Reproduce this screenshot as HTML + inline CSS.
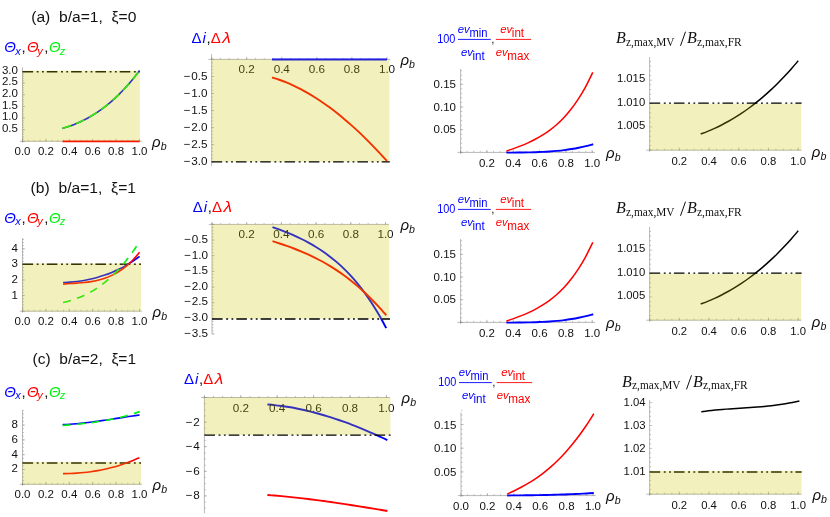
<!DOCTYPE html>
<html><head><meta charset="utf-8"><title>figure</title>
<style>
html,body{margin:0;padding:0;background:#fff;}
body{width:830px;height:517px;overflow:hidden;font-family:"Liberation Sans",sans-serif;}
svg{display:block;will-change:transform;}
</style></head><body>
<svg width="830" height="517" viewBox="0 0 830 517">
<rect width="830" height="517" fill="#ffffff"/>
<g font-family='&quot;Liberation Sans&quot;, sans-serif' font-size='11.6' fill='#111' stroke='#111' stroke-width='0'>
<text x="31.2" y="22.4" textLength="105.2" lengthAdjust="spacingAndGlyphs" font-size="15.5" xml:space="preserve">(a)  b/a=1,  &#958;=0</text>
<text x="30.6" y="193" textLength="105.4" lengthAdjust="spacingAndGlyphs" font-size="15.5" xml:space="preserve">(b)  b/a=1,  &#958;=1</text>
<text x="32.6" y="364.3" textLength="103.4" lengthAdjust="spacingAndGlyphs" font-size="15.5" xml:space="preserve">(c)  b/a=2,  &#958;=1</text>
<text x="4.3" y="52.3" font-style="italic" font-size="15" fill="#0000ff">&#920;</text>
<text x="15.3" y="54.6" font-style="italic" font-size="11" fill="#0000ff">x</text>
<text x="21.6" y="52.3" font-size="15">,</text>
<text x="27.1" y="52.3" font-style="italic" font-size="15" fill="#ff0000">&#920;</text>
<text x="37.2" y="54.6" font-style="italic" font-size="11" fill="#ff0000">y</text>
<text x="44.2" y="52.3" font-size="15">,</text>
<text x="48.9" y="52.3" font-style="italic" font-size="15" fill="#00f20f">&#920;</text>
<text x="59.8" y="54.6" font-style="italic" font-size="11" fill="#00f20f">z</text>
<line x1="19.9" y1="141.3" x2="141.9" y2="141.3" stroke="#8a8a8a" stroke-width="0.6"/>
<path d="M22.5 141.3v-1.5M28.35 141.3v-1.5M34.2 141.3v-1.5M40.05 141.3v-1.5M45.9 141.3v-1.5M51.75 141.3v-1.5M57.6 141.3v-1.5M63.45 141.3v-1.5M69.3 141.3v-1.5M75.15 141.3v-1.5M81 141.3v-1.5M86.85 141.3v-1.5M92.7 141.3v-1.5M98.55 141.3v-1.5M104.4 141.3v-1.5M110.25 141.3v-1.5M116.1 141.3v-1.5M121.95 141.3v-1.5M127.8 141.3v-1.5M133.65 141.3v-1.5M139.5 141.3v-1.5M22.5 141.3v-2.6M45.9 141.3v-2.6M69.3 141.3v-2.6M92.7 141.3v-2.6M116.1 141.3v-2.6M139.5 141.3v-2.6" fill="none" stroke="#8a8a8a" stroke-width="0.5"/>
<text x="22.5" y="154.6" text-anchor="middle" font-size="11.5">0.0</text>
<text x="45.9" y="154.6" text-anchor="middle" font-size="11.5">0.2</text>
<text x="69.3" y="154.6" text-anchor="middle" font-size="11.5">0.4</text>
<text x="92.7" y="154.6" text-anchor="middle" font-size="11.5">0.6</text>
<text x="116.1" y="154.6" text-anchor="middle" font-size="11.5">0.8</text>
<text x="139.5" y="154.6" text-anchor="middle" font-size="11.5">1.0</text>
<line x1="22.5" y1="142.8" x2="22.5" y2="67.4" stroke="#8a8a8a" stroke-width="0.6"/>
<path d="M22.5 141.3h1.5M22.5 138.97h1.5M22.5 136.65h1.5M22.5 134.32h1.5M22.5 131.99h1.5M22.5 129.67h1.5M22.5 127.34h1.5M22.5 125.01h1.5M22.5 122.68h1.5M22.5 120.36h1.5M22.5 118.03h1.5M22.5 115.7h1.5M22.5 113.38h1.5M22.5 111.05h1.5M22.5 108.72h1.5M22.5 106.4h1.5M22.5 104.07h1.5M22.5 101.74h1.5M22.5 99.41h1.5M22.5 97.09h1.5M22.5 94.76h1.5M22.5 92.43h1.5M22.5 90.11h1.5M22.5 87.78h1.5M22.5 85.45h1.5M22.5 83.13h1.5M22.5 80.8h1.5M22.5 78.47h1.5M22.5 76.14h1.5M22.5 73.82h1.5M22.5 71.49h1.5M22.5 141.3h2.6M22.5 129.67h2.6M22.5 118.03h2.6M22.5 106.4h2.6M22.5 94.76h2.6M22.5 83.13h2.6M22.5 71.49h2.6" fill="none" stroke="#8a8a8a" stroke-width="0.5"/>
<text x="17.9" y="131.97" text-anchor="end" font-size="11.5">0.5</text>
<text x="17.9" y="120.33" text-anchor="end" font-size="11.5">1.0</text>
<text x="17.9" y="108.7" text-anchor="end" font-size="11.5">1.5</text>
<text x="17.9" y="97.06" text-anchor="end" font-size="11.5">2.0</text>
<text x="17.9" y="85.43" text-anchor="end" font-size="11.5">2.5</text>
<text x="17.9" y="73.79" text-anchor="end" font-size="11.5">3.0</text>
<line x1="22.5" y1="71.7" x2="140" y2="71.7" stroke="#000000" stroke-width="1.35" stroke-dasharray="10.6 3.6 1.9 3.4 1.8 3.0"/>
<path d="M62.4 128.39C63.57 128.02 67.08 126.97 69.42 126.15C71.76 125.33 74.1 124.43 76.44 123.44C78.78 122.46 81.12 121.39 83.45 120.23C85.79 119.06 88.13 117.81 90.47 116.45C92.81 115.09 95.15 113.64 97.49 112.07C99.83 110.5 102.17 108.83 104.51 107.04C106.85 105.24 109.19 103.34 111.53 101.31C113.87 99.27 116.21 97.12 118.55 94.82C120.88 92.53 123.22 90.12 125.56 87.55C127.9 84.98 130.24 82.29 132.58 79.43C134.92 76.58 138.43 71.93 139.6 70.43" fill="none" stroke="#0000ff" stroke-width="1.6" stroke-linecap="butt"/>
<path d="M62.4 128.39C63.57 128.02 67.08 126.97 69.42 126.15C71.76 125.33 74.1 124.43 76.44 123.44C78.78 122.46 81.12 121.39 83.45 120.23C85.79 119.06 88.13 117.81 90.47 116.45C92.81 115.09 95.15 113.64 97.49 112.07C99.83 110.5 102.17 108.83 104.51 107.04C106.85 105.24 109.19 103.34 111.53 101.31C113.87 99.27 116.21 97.12 118.55 94.82C120.88 92.53 123.22 90.12 125.56 87.55C127.9 84.98 130.24 82.29 132.58 79.43C134.92 76.58 138.43 71.93 139.6 70.43" fill="none" stroke="#00f20f" stroke-width="1.7" stroke-linecap="butt" stroke-dasharray="9 5.5"/>
<line x1="62.6" y1="141.3" x2="139.6" y2="141.3" stroke="#ff0000" stroke-width="1.7"/>
<rect x="22.5" y="70.6" width="117.3" height="70.9" fill="rgb(205,198,0)" fill-opacity="0.26"/>
<text x="152.1" y="146.5" font-style="italic" textLength="8.6" lengthAdjust="spacingAndGlyphs" font-size="14.6">&#961;</text>
<text x="160.8" y="149.7" font-style="italic" font-size="10.6">b</text>
<text x="4.3" y="223.1" font-style="italic" font-size="15" fill="#0000ff">&#920;</text>
<text x="15.3" y="225.4" font-style="italic" font-size="11" fill="#0000ff">x</text>
<text x="21.6" y="223.1" font-size="15">,</text>
<text x="27.1" y="223.1" font-style="italic" font-size="15" fill="#ff0000">&#920;</text>
<text x="37.2" y="225.4" font-style="italic" font-size="11" fill="#ff0000">y</text>
<text x="44.2" y="223.1" font-size="15">,</text>
<text x="48.9" y="223.1" font-style="italic" font-size="15" fill="#00f20f">&#920;</text>
<text x="59.8" y="225.4" font-style="italic" font-size="11" fill="#00f20f">z</text>
<line x1="19.9" y1="311.2" x2="141.9" y2="311.2" stroke="#8a8a8a" stroke-width="0.6"/>
<path d="M22.5 311.2v-1.5M28.35 311.2v-1.5M34.2 311.2v-1.5M40.05 311.2v-1.5M45.9 311.2v-1.5M51.75 311.2v-1.5M57.6 311.2v-1.5M63.45 311.2v-1.5M69.3 311.2v-1.5M75.15 311.2v-1.5M81 311.2v-1.5M86.85 311.2v-1.5M92.7 311.2v-1.5M98.55 311.2v-1.5M104.4 311.2v-1.5M110.25 311.2v-1.5M116.1 311.2v-1.5M121.95 311.2v-1.5M127.8 311.2v-1.5M133.65 311.2v-1.5M139.5 311.2v-1.5M22.5 311.2v-2.6M45.9 311.2v-2.6M69.3 311.2v-2.6M92.7 311.2v-2.6M116.1 311.2v-2.6M139.5 311.2v-2.6" fill="none" stroke="#8a8a8a" stroke-width="0.5"/>
<text x="22.5" y="324.5" text-anchor="middle" font-size="11.5">0.0</text>
<text x="45.9" y="324.5" text-anchor="middle" font-size="11.5">0.2</text>
<text x="69.3" y="324.5" text-anchor="middle" font-size="11.5">0.4</text>
<text x="92.7" y="324.5" text-anchor="middle" font-size="11.5">0.6</text>
<text x="116.1" y="324.5" text-anchor="middle" font-size="11.5">0.8</text>
<text x="139.5" y="324.5" text-anchor="middle" font-size="11.5">1.0</text>
<line x1="22.5" y1="312.7" x2="22.5" y2="238.2" stroke="#8a8a8a" stroke-width="0.6"/>
<path d="M22.5 311.2h1.5M22.5 308.08h1.5M22.5 304.96h1.5M22.5 301.84h1.5M22.5 298.72h1.5M22.5 295.6h1.5M22.5 292.48h1.5M22.5 289.36h1.5M22.5 286.24h1.5M22.5 283.12h1.5M22.5 280h1.5M22.5 276.88h1.5M22.5 273.76h1.5M22.5 270.64h1.5M22.5 267.52h1.5M22.5 264.4h1.5M22.5 261.28h1.5M22.5 258.16h1.5M22.5 255.04h1.5M22.5 251.92h1.5M22.5 248.8h1.5M22.5 245.68h1.5M22.5 242.56h1.5M22.5 239.44h1.5M22.5 311.2h2.6M22.5 295.6h2.6M22.5 280h2.6M22.5 264.4h2.6M22.5 248.8h2.6" fill="none" stroke="#8a8a8a" stroke-width="0.5"/>
<text x="17.9" y="298.5" text-anchor="end" font-size="11.5">1</text>
<text x="17.9" y="282.9" text-anchor="end" font-size="11.5">2</text>
<text x="17.9" y="267.3" text-anchor="end" font-size="11.5">3</text>
<text x="17.9" y="251.7" text-anchor="end" font-size="11.5">4</text>
<line x1="22.5" y1="264.2" x2="141.2" y2="264.2" stroke="#000000" stroke-width="1.55" stroke-dasharray="10.6 3.6 1.9 3.4 1.8 3.0"/>
<path d="M63.1 282.56C64.26 282.49 67.74 282.33 70.05 282.14C72.37 281.95 74.69 281.73 77.01 281.44C79.33 281.15 81.65 280.82 83.96 280.42C86.28 280.03 88.6 279.58 90.92 279.05C93.24 278.53 95.55 277.95 97.87 277.29C100.19 276.63 102.51 275.91 104.83 275.1C107.15 274.29 109.46 273.41 111.78 272.44C114.1 271.47 116.42 270.42 118.74 269.27C121.05 268.13 123.37 266.9 125.69 265.57C128.01 264.23 130.33 262.81 132.65 261.28C134.96 259.75 138.44 257.19 139.6 256.38" fill="none" stroke="#0000ff" stroke-width="1.6" stroke-linecap="butt"/>
<path d="M63.1 284.09C64.26 284 67.74 283.73 70.05 283.56C72.37 283.39 74.69 283.27 77.01 283.09C79.33 282.91 81.65 282.74 83.96 282.49C86.28 282.24 88.6 281.98 90.92 281.6C93.24 281.22 95.55 280.8 97.87 280.24C100.19 279.67 102.51 279.03 104.83 278.23C107.15 277.42 109.46 276.5 111.78 275.39C114.1 274.28 116.42 273.03 118.74 271.56C121.05 270.09 123.37 268.45 125.69 266.56C128.01 264.66 130.33 262.57 132.65 260.2C134.96 257.83 138.44 253.63 139.6 252.32" fill="none" stroke="#ff0000" stroke-width="1.6" stroke-linecap="butt"/>
<path d="M63.1 302.43C64.26 302.14 67.74 301.34 70.05 300.66C72.37 299.97 74.69 299.22 77.01 298.35C79.33 297.48 81.65 296.52 83.96 295.44C86.28 294.36 88.6 293.18 90.92 291.86C93.24 290.54 95.55 289.11 97.87 287.52C100.19 285.94 102.51 284.23 104.83 282.36C107.15 280.49 109.46 278.48 111.78 276.29C114.1 274.1 116.42 271.77 118.74 269.24C121.05 266.72 123.37 264.03 125.69 261.14C128.01 258.26 130.33 255.19 132.65 251.91C134.96 248.64 138.44 243.22 139.6 241.48" fill="none" stroke="#00f20f" stroke-width="1.6" stroke-linecap="butt" stroke-dasharray="8 6.5"/>
<rect x="22.5" y="263.4" width="118.5" height="48" fill="rgb(205,198,0)" fill-opacity="0.26"/>
<text x="152.6" y="316.5" font-style="italic" textLength="8.6" lengthAdjust="spacingAndGlyphs" font-size="14.6">&#961;</text>
<text x="161.3" y="319.7" font-style="italic" font-size="10.6">b</text>
<text x="4.3" y="396.5" font-style="italic" font-size="15" fill="#0000ff">&#920;</text>
<text x="15.3" y="398.8" font-style="italic" font-size="11" fill="#0000ff">x</text>
<text x="21.6" y="396.5" font-size="15">,</text>
<text x="27.1" y="396.5" font-style="italic" font-size="15" fill="#ff0000">&#920;</text>
<text x="37.2" y="398.8" font-style="italic" font-size="11" fill="#ff0000">y</text>
<text x="44.2" y="396.5" font-size="15">,</text>
<text x="48.9" y="396.5" font-style="italic" font-size="15" fill="#00f20f">&#920;</text>
<text x="59.8" y="398.8" font-style="italic" font-size="11" fill="#00f20f">z</text>
<line x1="19.9" y1="484.3" x2="141.9" y2="484.3" stroke="#8a8a8a" stroke-width="0.6"/>
<path d="M22.5 484.3v-1.5M28.35 484.3v-1.5M34.2 484.3v-1.5M40.05 484.3v-1.5M45.9 484.3v-1.5M51.75 484.3v-1.5M57.6 484.3v-1.5M63.45 484.3v-1.5M69.3 484.3v-1.5M75.15 484.3v-1.5M81 484.3v-1.5M86.85 484.3v-1.5M92.7 484.3v-1.5M98.55 484.3v-1.5M104.4 484.3v-1.5M110.25 484.3v-1.5M116.1 484.3v-1.5M121.95 484.3v-1.5M127.8 484.3v-1.5M133.65 484.3v-1.5M139.5 484.3v-1.5M22.5 484.3v-2.6M45.9 484.3v-2.6M69.3 484.3v-2.6M92.7 484.3v-2.6M116.1 484.3v-2.6M139.5 484.3v-2.6" fill="none" stroke="#8a8a8a" stroke-width="0.5"/>
<text x="22.5" y="497.6" text-anchor="middle" font-size="11.5">0.0</text>
<text x="45.9" y="497.6" text-anchor="middle" font-size="11.5">0.2</text>
<text x="69.3" y="497.6" text-anchor="middle" font-size="11.5">0.4</text>
<text x="92.7" y="497.6" text-anchor="middle" font-size="11.5">0.6</text>
<text x="116.1" y="497.6" text-anchor="middle" font-size="11.5">0.8</text>
<text x="139.5" y="497.6" text-anchor="middle" font-size="11.5">1.0</text>
<line x1="22.5" y1="485.8" x2="22.5" y2="410.2" stroke="#8a8a8a" stroke-width="0.6"/>
<path d="M22.5 484.3h1.5M22.5 480.6h1.5M22.5 476.9h1.5M22.5 473.2h1.5M22.5 469.5h1.5M22.5 465.8h1.5M22.5 462.1h1.5M22.5 458.4h1.5M22.5 454.7h1.5M22.5 451h1.5M22.5 447.3h1.5M22.5 443.6h1.5M22.5 439.9h1.5M22.5 436.2h1.5M22.5 432.5h1.5M22.5 428.8h1.5M22.5 425.1h1.5M22.5 421.4h1.5M22.5 417.7h1.5M22.5 414h1.5M22.5 410.3h1.5M22.5 484.3h2.6M22.5 469.5h2.6M22.5 454.7h2.6M22.5 439.9h2.6M22.5 425.1h2.6" fill="none" stroke="#8a8a8a" stroke-width="0.5"/>
<text x="17.9" y="472.4" text-anchor="end" font-size="11.5">2</text>
<text x="17.9" y="457.6" text-anchor="end" font-size="11.5">4</text>
<text x="17.9" y="442.8" text-anchor="end" font-size="11.5">6</text>
<text x="17.9" y="428" text-anchor="end" font-size="11.5">8</text>
<line x1="22.5" y1="463" x2="141.2" y2="463" stroke="#000000" stroke-width="1.55" stroke-dasharray="10.6 3.6 1.9 3.4 1.8 3.0"/>
<path d="M62.6 424.7C63.77 424.64 67.27 424.47 69.6 424.31C71.93 424.15 74.27 423.96 76.6 423.75C78.93 423.53 81.27 423.29 83.6 423.03C85.93 422.77 88.27 422.49 90.6 422.19C92.93 421.89 95.27 421.58 97.6 421.25C99.93 420.93 102.27 420.59 104.6 420.24C106.93 419.9 109.27 419.54 111.6 419.19C113.93 418.83 116.27 418.47 118.6 418.11C120.93 417.75 123.27 417.39 125.6 417.04C127.93 416.69 130.27 416.33 132.6 416C134.93 415.66 138.43 415.18 139.6 415.02" fill="none" stroke="#0000ff" stroke-width="1.6" stroke-linecap="butt"/>
<path d="M62.6 425.54C63.77 425.44 67.28 425.15 69.62 424.94C71.96 424.73 74.3 424.52 76.64 424.29C78.98 424.06 81.32 423.82 83.65 423.56C85.99 423.3 88.33 423.02 90.67 422.72C93.01 422.42 95.35 422.1 97.69 421.75C100.03 421.39 102.37 421.02 104.71 420.61C107.05 420.2 109.39 419.76 111.73 419.28C114.07 418.8 116.41 418.29 118.75 417.73C121.08 417.18 123.42 416.58 125.76 415.94C128.1 415.29 130.44 414.61 132.78 413.87C135.12 413.13 138.63 411.89 139.8 411.49" fill="none" stroke="#00f20f" stroke-width="1.6" stroke-linecap="butt" stroke-dasharray="8 6.5"/>
<path d="M63 473.65C64.16 473.62 67.63 473.55 69.95 473.46C72.26 473.37 74.58 473.24 76.89 473.08C79.21 472.92 81.52 472.73 83.84 472.49C86.15 472.26 88.47 471.98 90.78 471.67C93.1 471.35 95.41 471 97.73 470.59C100.04 470.19 102.36 469.74 104.67 469.24C106.99 468.75 109.3 468.2 111.62 467.6C113.93 467 116.25 466.35 118.56 465.64C120.88 464.94 123.19 464.18 125.51 463.35C127.82 462.53 130.14 461.65 132.45 460.7C134.77 459.76 138.24 458.18 139.4 457.68" fill="none" stroke="#ff0000" stroke-width="1.6" stroke-linecap="butt"/>
<rect x="22.5" y="461.9" width="118.5" height="22.6" fill="rgb(205,198,0)" fill-opacity="0.26"/>
<text x="152.6" y="489.6" font-style="italic" textLength="8.6" lengthAdjust="spacingAndGlyphs" font-size="14.6">&#961;</text>
<text x="161.3" y="492.8" font-style="italic" font-size="10.6">b</text>
<text x="191.4" y="42.8" font-size="15" fill="#0000ff">&#916;</text>
<text x="202.4" y="42.8" font-style="italic" font-size="15" fill="#0000ff">i</text>
<text x="206.4" y="42.8" font-size="15">,</text>
<text x="210.7" y="42.8" font-size="15" fill="#ff0000">&#916;</text>
<text x="222.2" y="42.8" font-style="italic" textLength="8.6" lengthAdjust="spacingAndGlyphs" font-size="15" fill="#ff0000">&#955;</text>
<line x1="208.4" y1="59.4" x2="390.4" y2="59.4" stroke="#8a8a8a" stroke-width="0.6"/>
<path d="M211.6 59.4v-1.5M220.37 59.4v-1.5M229.14 59.4v-1.5M237.91 59.4v-1.5M246.68 59.4v-1.5M255.45 59.4v-1.5M264.22 59.4v-1.5M272.99 59.4v-1.5M281.76 59.4v-1.5M290.53 59.4v-1.5M299.3 59.4v-1.5M308.07 59.4v-1.5M316.84 59.4v-1.5M325.61 59.4v-1.5M334.38 59.4v-1.5M343.15 59.4v-1.5M351.92 59.4v-1.5M360.69 59.4v-1.5M369.46 59.4v-1.5M378.23 59.4v-1.5M387 59.4v-1.5M211.6 59.4v-2.6M246.68 59.4v-2.6M281.76 59.4v-2.6M316.84 59.4v-2.6M351.92 59.4v-2.6M387 59.4v-2.6" fill="none" stroke="#8a8a8a" stroke-width="0.5"/>
<text x="246.68" y="73.3" text-anchor="middle" font-size="11.7">0.2</text>
<text x="281.76" y="73.3" text-anchor="middle" font-size="11.7">0.4</text>
<text x="316.84" y="73.3" text-anchor="middle" font-size="11.7">0.6</text>
<text x="351.92" y="73.3" text-anchor="middle" font-size="11.7">0.8</text>
<text x="387" y="73.3" text-anchor="middle" font-size="11.7">1.0</text>
<line x1="211.6" y1="54" x2="211.6" y2="166" stroke="#8a8a8a" stroke-width="0.6"/>
<path d="M211.6 59.4h1.5M211.6 62.81h1.5M211.6 66.23h1.5M211.6 69.64h1.5M211.6 73.05h1.5M211.6 76.47h1.5M211.6 79.88h1.5M211.6 83.29h1.5M211.6 86.7h1.5M211.6 90.12h1.5M211.6 93.53h1.5M211.6 96.94h1.5M211.6 100.36h1.5M211.6 103.77h1.5M211.6 107.18h1.5M211.6 110.59h1.5M211.6 114.01h1.5M211.6 117.42h1.5M211.6 120.83h1.5M211.6 124.25h1.5M211.6 127.66h1.5M211.6 131.07h1.5M211.6 134.49h1.5M211.6 137.9h1.5M211.6 141.31h1.5M211.6 144.72h1.5M211.6 148.14h1.5M211.6 151.55h1.5M211.6 154.96h1.5M211.6 158.38h1.5M211.6 161.79h1.5M211.6 59.4h2.6M211.6 76.47h2.6M211.6 93.53h2.6M211.6 110.59h2.6M211.6 127.66h2.6M211.6 144.72h2.6M211.6 161.79h2.6" fill="none" stroke="#8a8a8a" stroke-width="0.5"/>
<text x="207.6" y="79.56" text-anchor="end" font-size="11.7">&#8722;<tspan dx="0.7">0.5</tspan></text>
<text x="207.6" y="96.63" text-anchor="end" font-size="11.7">&#8722;<tspan dx="0.7">1.0</tspan></text>
<text x="207.6" y="113.69" text-anchor="end" font-size="11.7">&#8722;<tspan dx="0.7">1.5</tspan></text>
<text x="207.6" y="130.76" text-anchor="end" font-size="11.7">&#8722;<tspan dx="0.7">2.0</tspan></text>
<text x="207.6" y="147.82" text-anchor="end" font-size="11.7">&#8722;<tspan dx="0.7">2.5</tspan></text>
<text x="207.6" y="164.89" text-anchor="end" font-size="11.7">&#8722;<tspan dx="0.7">3.0</tspan></text>
<path d="M272 77.46C273.2 77.84 276.79 78.92 279.18 79.75C281.57 80.58 283.97 81.49 286.36 82.46C288.76 83.44 291.15 84.49 293.54 85.6C295.94 86.71 298.33 87.9 300.73 89.15C303.12 90.4 305.51 91.72 307.91 93.1C310.3 94.48 312.69 95.93 315.09 97.45C317.48 98.96 319.88 100.54 322.27 102.18C324.66 103.83 327.06 105.53 329.45 107.3C331.84 109.07 334.24 110.9 336.63 112.79C339.03 114.69 341.42 116.64 343.81 118.65C346.21 120.66 348.6 122.74 350.99 124.87C353.39 127 355.78 129.19 358.17 131.43C360.57 133.68 362.96 135.98 365.36 138.34C367.75 140.7 370.14 143.11 372.54 145.58C374.93 148.05 377.32 150.58 379.72 153.15C382.11 155.73 385.7 159.73 386.9 161.04" fill="none" stroke="#ff0000" stroke-width="1.9" stroke-linecap="butt"/>
<line x1="272" y1="59.4" x2="387" y2="59.4" stroke="#0000ff" stroke-width="2"/>
<rect x="211.6" y="59.4" width="177.8" height="102.4" fill="rgb(205,198,0)" fill-opacity="0.26"/>
<line x1="211.6" y1="161.9" x2="389.8" y2="161.9" stroke="#000000" stroke-width="1.4" stroke-dasharray="10.6 3.6 1.9 3.4 1.8 3.0"/>
<text x="400.4" y="64.9" font-style="italic" textLength="8.6" lengthAdjust="spacingAndGlyphs" font-size="14.6">&#961;</text>
<text x="409.1" y="68.1" font-style="italic" font-size="10.6">b</text>
<text x="192.8" y="211.6" font-size="15" fill="#0000ff">&#916;</text>
<text x="203.8" y="211.6" font-style="italic" font-size="15" fill="#0000ff">i</text>
<text x="207.8" y="211.6" font-size="15">,</text>
<text x="212.1" y="211.6" font-size="15" fill="#ff0000">&#916;</text>
<text x="223.6" y="211.6" font-style="italic" textLength="8.6" lengthAdjust="spacingAndGlyphs" font-size="15" fill="#ff0000">&#955;</text>
<path d="M272.5 227.18C273.68 227.61 277.24 228.84 279.61 229.72C281.97 230.6 284.34 231.51 286.71 232.47C289.08 233.43 291.45 234.42 293.82 235.47C296.19 236.52 298.56 237.61 300.93 238.77C303.29 239.93 305.66 241.14 308.03 242.42C310.4 243.71 312.77 245.05 315.14 246.49C317.51 247.93 319.88 249.43 322.24 251.04C324.61 252.65 326.98 254.34 329.35 256.15C331.72 257.95 334.09 259.85 336.46 261.89C338.82 263.92 341.19 266.06 343.56 268.35C345.93 270.64 348.3 273.05 350.67 275.63C353.04 278.22 355.41 280.93 357.77 283.84C360.14 286.74 362.51 289.8 364.88 293.07C367.25 296.34 369.62 299.78 371.99 303.45C374.36 307.12 376.73 310.97 379.09 315.09C381.46 319.2 385.02 325.95 386.2 328.12" fill="none" stroke="#0000ff" stroke-width="1.9" stroke-linecap="butt"/>
<path d="M272.5 241.2C273.68 241.58 277.24 242.7 279.61 243.48C281.97 244.26 284.34 245.06 286.71 245.9C289.08 246.73 291.45 247.59 293.82 248.5C296.19 249.4 298.56 250.33 300.93 251.32C303.29 252.3 305.66 253.33 308.03 254.4C310.4 255.48 312.77 256.61 315.14 257.79C317.51 258.98 319.88 260.22 322.24 261.52C324.61 262.83 326.98 264.19 329.35 265.62C331.72 267.06 334.09 268.55 336.46 270.13C338.82 271.7 341.19 273.35 343.56 275.07C345.93 276.8 348.3 278.59 350.67 280.48C353.04 282.36 355.41 284.32 357.77 286.37C360.14 288.42 362.51 290.55 364.88 292.78C367.25 295 369.62 297.31 371.99 299.72C374.36 302.13 376.73 304.62 379.09 307.21C381.46 309.81 385.02 313.94 386.2 315.28" fill="none" stroke="#ff0000" stroke-width="1.9" stroke-linecap="butt"/>
<line x1="208.8" y1="224.4" x2="388.9" y2="224.4" stroke="#8a8a8a" stroke-width="0.6"/>
<path d="M212 224.4v-1.5M220.68 224.4v-1.5M229.35 224.4v-1.5M238.03 224.4v-1.5M246.7 224.4v-1.5M255.38 224.4v-1.5M264.05 224.4v-1.5M272.73 224.4v-1.5M281.4 224.4v-1.5M290.07 224.4v-1.5M298.75 224.4v-1.5M307.43 224.4v-1.5M316.1 224.4v-1.5M324.77 224.4v-1.5M333.45 224.4v-1.5M342.12 224.4v-1.5M350.8 224.4v-1.5M359.48 224.4v-1.5M368.15 224.4v-1.5M376.83 224.4v-1.5M385.5 224.4v-1.5M212 224.4v-2.6M246.7 224.4v-2.6M281.4 224.4v-2.6M316.1 224.4v-2.6M350.8 224.4v-2.6M385.5 224.4v-2.6" fill="none" stroke="#8a8a8a" stroke-width="0.5"/>
<text x="246.7" y="238.3" text-anchor="middle" font-size="11.7">0.2</text>
<text x="281.4" y="238.3" text-anchor="middle" font-size="11.7">0.4</text>
<text x="316.1" y="238.3" text-anchor="middle" font-size="11.7">0.6</text>
<text x="350.8" y="238.3" text-anchor="middle" font-size="11.7">0.8</text>
<text x="385.5" y="238.3" text-anchor="middle" font-size="11.7">1.0</text>
<line x1="212" y1="223.4" x2="212" y2="333.8" stroke="#8a8a8a" stroke-width="0.6"/>
<path d="M212 224.4h1.5M212 227.53h1.5M212 230.66h1.5M212 233.79h1.5M212 236.92h1.5M212 240.05h1.5M212 243.18h1.5M212 246.31h1.5M212 249.44h1.5M212 252.57h1.5M212 255.7h1.5M212 258.83h1.5M212 261.96h1.5M212 265.09h1.5M212 268.22h1.5M212 271.35h1.5M212 274.48h1.5M212 277.61h1.5M212 280.74h1.5M212 283.87h1.5M212 287h1.5M212 290.13h1.5M212 293.26h1.5M212 296.39h1.5M212 299.52h1.5M212 302.65h1.5M212 305.78h1.5M212 308.91h1.5M212 312.04h1.5M212 315.17h1.5M212 318.3h1.5M212 321.43h1.5M212 324.56h1.5M212 327.69h1.5M212 330.82h1.5M212 333.95h1.5M212 224.4h2.6M212 240.05h2.6M212 255.7h2.6M212 271.35h2.6M212 287h2.6M212 302.65h2.6M212 318.3h2.6M212 333.95h2.6" fill="none" stroke="#8a8a8a" stroke-width="0.5"/>
<text x="208" y="242.85" text-anchor="end" font-size="11.7">&#8722;<tspan dx="0.7">0.5</tspan></text>
<text x="208" y="258.5" text-anchor="end" font-size="11.7">&#8722;<tspan dx="0.7">1.0</tspan></text>
<text x="208" y="274.15" text-anchor="end" font-size="11.7">&#8722;<tspan dx="0.7">1.5</tspan></text>
<text x="208" y="289.8" text-anchor="end" font-size="11.7">&#8722;<tspan dx="0.7">2.0</tspan></text>
<text x="208" y="305.45" text-anchor="end" font-size="11.7">&#8722;<tspan dx="0.7">2.5</tspan></text>
<text x="208" y="321.1" text-anchor="end" font-size="11.7">&#8722;<tspan dx="0.7">3.0</tspan></text>
<text x="208" y="336.75" text-anchor="end" font-size="11.7">&#8722;<tspan dx="0.7">3.5</tspan></text>
<rect x="212" y="224.4" width="177.2" height="94.5" fill="rgb(205,198,0)" fill-opacity="0.26"/>
<line x1="212" y1="319" x2="390" y2="319" stroke="#000000" stroke-width="1.4" stroke-dasharray="10.6 3.6 1.9 3.4 1.8 3.0"/>
<text x="400.4" y="230.2" font-style="italic" textLength="8.6" lengthAdjust="spacingAndGlyphs" font-size="14.6">&#961;</text>
<text x="409.1" y="233.4" font-style="italic" font-size="10.6">b</text>
<text x="183.9" y="384.4" font-size="15" fill="#0000ff">&#916;</text>
<text x="194.9" y="384.4" font-style="italic" font-size="15" fill="#0000ff">i</text>
<text x="198.9" y="384.4" font-size="15">,</text>
<text x="203.2" y="384.4" font-size="15" fill="#ff0000">&#916;</text>
<text x="214.7" y="384.4" font-style="italic" textLength="8.6" lengthAdjust="spacingAndGlyphs" font-size="15" fill="#ff0000">&#955;</text>
<path d="M267.4 404.46C268.58 404.56 272.11 404.85 274.46 405.09C276.81 405.34 279.16 405.63 281.52 405.95C283.87 406.27 286.22 406.62 288.58 407.01C290.93 407.4 293.28 407.82 295.64 408.28C297.99 408.73 300.34 409.22 302.69 409.73C305.05 410.25 307.4 410.8 309.75 411.38C312.11 411.96 314.46 412.57 316.81 413.21C319.16 413.85 321.52 414.52 323.87 415.22C326.22 415.92 328.58 416.64 330.93 417.39C333.28 418.15 335.64 418.93 337.99 419.73C340.34 420.54 342.69 421.37 345.05 422.22C347.4 423.08 349.75 423.96 352.11 424.87C354.46 425.77 356.81 426.7 359.16 427.65C361.52 428.6 363.87 429.57 366.22 430.57C368.58 431.56 370.93 432.58 373.28 433.62C375.64 434.65 377.99 435.71 380.34 436.79C382.69 437.86 386.22 439.53 387.4 440.07" fill="none" stroke="#0000ff" stroke-width="1.9" stroke-linecap="butt"/>
<path d="M267.4 494.99C268.58 495.08 272.11 495.34 274.46 495.53C276.81 495.73 279.16 495.93 281.52 496.15C283.87 496.37 286.22 496.59 288.58 496.83C290.93 497.07 293.28 497.31 295.64 497.57C297.99 497.83 300.34 498.09 302.69 498.37C305.05 498.64 307.4 498.92 309.75 499.22C312.11 499.51 314.46 499.81 316.81 500.11C319.16 500.42 321.52 500.74 323.87 501.06C326.22 501.38 328.58 501.71 330.93 502.04C333.28 502.38 335.64 502.72 337.99 503.07C340.34 503.41 342.69 503.77 345.05 504.13C347.4 504.48 349.75 504.85 352.11 505.21C354.46 505.58 356.81 505.95 359.16 506.33C361.52 506.7 363.87 507.08 366.22 507.47C368.58 507.85 370.93 508.24 373.28 508.62C375.64 509.01 377.99 509.4 380.34 509.8C382.69 510.19 386.22 510.79 387.4 510.98" fill="none" stroke="#ff0000" stroke-width="1.9" stroke-linecap="butt"/>
<line x1="201.2" y1="397.5" x2="390" y2="397.5" stroke="#8a8a8a" stroke-width="0.6"/>
<path d="M204.4 397.5v-1.5M213.5 397.5v-1.5M222.6 397.5v-1.5M231.7 397.5v-1.5M240.8 397.5v-1.5M249.9 397.5v-1.5M259 397.5v-1.5M268.1 397.5v-1.5M277.2 397.5v-1.5M286.3 397.5v-1.5M295.4 397.5v-1.5M304.5 397.5v-1.5M313.6 397.5v-1.5M322.7 397.5v-1.5M331.8 397.5v-1.5M340.9 397.5v-1.5M350 397.5v-1.5M359.1 397.5v-1.5M368.2 397.5v-1.5M377.3 397.5v-1.5M386.4 397.5v-1.5M204.4 397.5v-2.6M240.8 397.5v-2.6M277.2 397.5v-2.6M313.6 397.5v-2.6M350 397.5v-2.6M386.4 397.5v-2.6" fill="none" stroke="#8a8a8a" stroke-width="0.5"/>
<text x="240.8" y="411.8" text-anchor="middle" font-size="11.7">0.2</text>
<text x="277.2" y="411.8" text-anchor="middle" font-size="11.7">0.4</text>
<text x="313.6" y="411.8" text-anchor="middle" font-size="11.7">0.6</text>
<text x="350" y="411.8" text-anchor="middle" font-size="11.7">0.8</text>
<text x="386.4" y="411.8" text-anchor="middle" font-size="11.7">1.0</text>
<line x1="204.4" y1="396.5" x2="204.4" y2="513.2" stroke="#8a8a8a" stroke-width="0.6"/>
<path d="M204.4 397.5h1.5M204.4 403.65h1.5M204.4 409.8h1.5M204.4 415.95h1.5M204.4 422.1h1.5M204.4 428.25h1.5M204.4 434.4h1.5M204.4 440.55h1.5M204.4 446.7h1.5M204.4 452.85h1.5M204.4 459h1.5M204.4 465.15h1.5M204.4 471.3h1.5M204.4 477.45h1.5M204.4 483.6h1.5M204.4 489.75h1.5M204.4 495.9h1.5M204.4 502.05h1.5M204.4 508.2h1.5M204.4 397.5h2.6M204.4 422.1h2.6M204.4 446.7h2.6M204.4 471.3h2.6M204.4 495.9h2.6" fill="none" stroke="#8a8a8a" stroke-width="0.5"/>
<text x="199.8" y="425.5" text-anchor="end" font-size="11.7">&#8722;<tspan dx="0.7">2</tspan></text>
<text x="199.8" y="450.1" text-anchor="end" font-size="11.7">&#8722;<tspan dx="0.7">4</tspan></text>
<text x="199.8" y="474.7" text-anchor="end" font-size="11.7">&#8722;<tspan dx="0.7">6</tspan></text>
<text x="199.8" y="499.3" text-anchor="end" font-size="11.7">&#8722;<tspan dx="0.7">8</tspan></text>
<rect x="204.4" y="397.5" width="186" height="37.5" fill="rgb(205,198,0)" fill-opacity="0.26"/>
<line x1="204.4" y1="435.1" x2="390.6" y2="435.1" stroke="#000000" stroke-width="1.4" stroke-dasharray="10.6 3.6 1.9 3.4 1.8 3.0"/>
<text x="401.6" y="403" font-style="italic" textLength="8.6" lengthAdjust="spacingAndGlyphs" font-size="14.6">&#961;</text>
<text x="410.3" y="406.2" font-style="italic" font-size="10.6">b</text>
<text x="437.2" y="43" textLength="18.2" lengthAdjust="spacingAndGlyphs" font-size="12" fill="#0000ff">100</text>
<line x1="458" y1="39.4" x2="490.8" y2="39.4" stroke="#0000ff" stroke-width="0.9"/>
<text x="457.8" y="32.9" font-style="italic" textLength="12" lengthAdjust="spacingAndGlyphs" font-size="10.8" fill="#0000ff">ev</text>
<text x="469.4" y="37" textLength="18" lengthAdjust="spacingAndGlyphs" font-size="12" fill="#0000ff">min</text>
<text x="460.9" y="55.7" font-style="italic" textLength="12" lengthAdjust="spacingAndGlyphs" font-size="10.8" fill="#0000ff">ev</text>
<text x="472.4" y="59.6" textLength="12.3" lengthAdjust="spacingAndGlyphs" font-size="12" fill="#0000ff">int</text>
<text x="491.3" y="42.6" font-size="11.5">,</text>
<line x1="495.8" y1="39.4" x2="531.1" y2="39.4" stroke="#ff0000" stroke-width="0.9"/>
<text x="500.3" y="32.9" font-style="italic" textLength="12" lengthAdjust="spacingAndGlyphs" font-size="10.8" fill="#ff0000">ev</text>
<text x="511.8" y="37" textLength="12.3" lengthAdjust="spacingAndGlyphs" font-size="12" fill="#ff0000">int</text>
<text x="495.7" y="55.7" font-style="italic" textLength="12" lengthAdjust="spacingAndGlyphs" font-size="10.8" fill="#ff0000">ev</text>
<text x="507.3" y="59.6" textLength="22" lengthAdjust="spacingAndGlyphs" font-size="12" fill="#ff0000">max</text>
<line x1="457.4" y1="152.4" x2="595" y2="152.4" stroke="#8a8a8a" stroke-width="0.6"/>
<path d="M460.6 152.4v-1.5M467.18 152.4v-1.5M473.76 152.4v-1.5M480.34 152.4v-1.5M486.92 152.4v-1.5M493.5 152.4v-1.5M500.08 152.4v-1.5M506.66 152.4v-1.5M513.24 152.4v-1.5M519.82 152.4v-1.5M526.4 152.4v-1.5M532.98 152.4v-1.5M539.56 152.4v-1.5M546.14 152.4v-1.5M552.72 152.4v-1.5M559.3 152.4v-1.5M565.88 152.4v-1.5M572.46 152.4v-1.5M579.04 152.4v-1.5M585.62 152.4v-1.5M592.2 152.4v-1.5M460.6 152.4v-2.6M486.92 152.4v-2.6M513.24 152.4v-2.6M539.56 152.4v-2.6M565.88 152.4v-2.6M592.2 152.4v-2.6" fill="none" stroke="#8a8a8a" stroke-width="0.5"/>
<text x="486.92" y="166.8" text-anchor="middle" font-size="11.5">0.2</text>
<text x="513.24" y="166.8" text-anchor="middle" font-size="11.5">0.4</text>
<text x="539.56" y="166.8" text-anchor="middle" font-size="11.5">0.6</text>
<text x="565.88" y="166.8" text-anchor="middle" font-size="11.5">0.8</text>
<text x="592.2" y="166.8" text-anchor="middle" font-size="11.5">1.0</text>
<line x1="460.6" y1="154" x2="460.6" y2="69" stroke="#8a8a8a" stroke-width="0.6"/>
<path d="M460.6 152.4h1.5M460.6 147.86h1.5M460.6 143.32h1.5M460.6 138.78h1.5M460.6 134.24h1.5M460.6 129.7h1.5M460.6 125.16h1.5M460.6 120.62h1.5M460.6 116.08h1.5M460.6 111.54h1.5M460.6 107h1.5M460.6 102.46h1.5M460.6 97.92h1.5M460.6 93.38h1.5M460.6 88.84h1.5M460.6 84.3h1.5M460.6 79.76h1.5M460.6 75.22h1.5M460.6 70.68h1.5M460.6 152.4h2.6M460.6 129.7h2.6M460.6 107h2.6M460.6 84.3h2.6" fill="none" stroke="#8a8a8a" stroke-width="0.5"/>
<text x="456" y="133.3" text-anchor="end" font-size="11.5">0.05</text>
<text x="456" y="110.6" text-anchor="end" font-size="11.5">0.10</text>
<text x="456" y="87.9" text-anchor="end" font-size="11.5">0.15</text>
<path d="M506.4 152.64C507.61 152.63 511.22 152.6 513.63 152.58C516.04 152.56 518.46 152.54 520.87 152.51C523.28 152.48 525.69 152.45 528.1 152.4C530.51 152.34 532.92 152.29 535.33 152.21C537.74 152.13 540.16 152.03 542.57 151.91C544.98 151.79 547.39 151.65 549.8 151.48C552.21 151.31 554.62 151.11 557.03 150.88C559.44 150.64 561.86 150.38 564.27 150.08C566.68 149.77 569.09 149.43 571.5 149.04C573.91 148.65 576.32 148.23 578.73 147.75C581.14 147.26 583.56 146.74 585.97 146.15C588.38 145.57 591.99 144.56 593.2 144.24" fill="none" stroke="#0000ff" stroke-width="1.9" stroke-linecap="butt"/>
<path d="M506.4 151.09C507.6 150.68 511.2 149.49 513.6 148.62C516 147.76 518.4 146.86 520.8 145.9C523.2 144.93 525.6 143.93 528 142.83C530.4 141.73 532.8 140.58 535.2 139.31C537.6 138.03 540 136.69 542.4 135.19C544.8 133.69 547.2 132.1 549.6 130.32C552 128.53 554.4 126.63 556.8 124.49C559.2 122.35 561.6 120.06 564 117.49C566.4 114.92 568.8 112.15 571.2 109.06C573.6 105.97 576 102.65 578.4 98.95C580.8 95.24 583.2 91.25 585.6 86.83C588 82.4 591.6 74.79 592.8 72.38" fill="none" stroke="#ff0000" stroke-width="1.55" stroke-linecap="butt"/>
<text x="606" y="157.9" font-style="italic" textLength="8.6" lengthAdjust="spacingAndGlyphs" font-size="14.6">&#961;</text>
<text x="614.7" y="161.1" font-style="italic" font-size="10.6">b</text>
<text x="437.2" y="213" textLength="18.2" lengthAdjust="spacingAndGlyphs" font-size="12" fill="#0000ff">100</text>
<line x1="458" y1="209.4" x2="490.8" y2="209.4" stroke="#0000ff" stroke-width="0.9"/>
<text x="457.8" y="202.9" font-style="italic" textLength="12" lengthAdjust="spacingAndGlyphs" font-size="10.8" fill="#0000ff">ev</text>
<text x="469.4" y="207" textLength="18" lengthAdjust="spacingAndGlyphs" font-size="12" fill="#0000ff">min</text>
<text x="460.9" y="225.7" font-style="italic" textLength="12" lengthAdjust="spacingAndGlyphs" font-size="10.8" fill="#0000ff">ev</text>
<text x="472.4" y="229.6" textLength="12.3" lengthAdjust="spacingAndGlyphs" font-size="12" fill="#0000ff">int</text>
<text x="491.3" y="212.6" font-size="11.5">,</text>
<line x1="495.8" y1="209.4" x2="531.1" y2="209.4" stroke="#ff0000" stroke-width="0.9"/>
<text x="500.3" y="202.9" font-style="italic" textLength="12" lengthAdjust="spacingAndGlyphs" font-size="10.8" fill="#ff0000">ev</text>
<text x="511.8" y="207" textLength="12.3" lengthAdjust="spacingAndGlyphs" font-size="12" fill="#ff0000">int</text>
<text x="495.7" y="225.7" font-style="italic" textLength="12" lengthAdjust="spacingAndGlyphs" font-size="10.8" fill="#ff0000">ev</text>
<text x="507.3" y="229.6" textLength="22" lengthAdjust="spacingAndGlyphs" font-size="12" fill="#ff0000">max</text>
<line x1="457.4" y1="322.4" x2="595" y2="322.4" stroke="#8a8a8a" stroke-width="0.6"/>
<path d="M460.6 322.4v-1.5M467.18 322.4v-1.5M473.76 322.4v-1.5M480.34 322.4v-1.5M486.92 322.4v-1.5M493.5 322.4v-1.5M500.08 322.4v-1.5M506.66 322.4v-1.5M513.24 322.4v-1.5M519.82 322.4v-1.5M526.4 322.4v-1.5M532.98 322.4v-1.5M539.56 322.4v-1.5M546.14 322.4v-1.5M552.72 322.4v-1.5M559.3 322.4v-1.5M565.88 322.4v-1.5M572.46 322.4v-1.5M579.04 322.4v-1.5M585.62 322.4v-1.5M592.2 322.4v-1.5M460.6 322.4v-2.6M486.92 322.4v-2.6M513.24 322.4v-2.6M539.56 322.4v-2.6M565.88 322.4v-2.6M592.2 322.4v-2.6" fill="none" stroke="#8a8a8a" stroke-width="0.5"/>
<text x="486.92" y="336.8" text-anchor="middle" font-size="11.5">0.2</text>
<text x="513.24" y="336.8" text-anchor="middle" font-size="11.5">0.4</text>
<text x="539.56" y="336.8" text-anchor="middle" font-size="11.5">0.6</text>
<text x="565.88" y="336.8" text-anchor="middle" font-size="11.5">0.8</text>
<text x="592.2" y="336.8" text-anchor="middle" font-size="11.5">1.0</text>
<line x1="460.6" y1="324" x2="460.6" y2="239" stroke="#8a8a8a" stroke-width="0.6"/>
<path d="M460.6 322.4h1.5M460.6 317.86h1.5M460.6 313.32h1.5M460.6 308.78h1.5M460.6 304.24h1.5M460.6 299.7h1.5M460.6 295.16h1.5M460.6 290.62h1.5M460.6 286.08h1.5M460.6 281.54h1.5M460.6 277h1.5M460.6 272.46h1.5M460.6 267.92h1.5M460.6 263.38h1.5M460.6 258.84h1.5M460.6 254.3h1.5M460.6 249.76h1.5M460.6 245.22h1.5M460.6 240.68h1.5M460.6 322.4h2.6M460.6 299.7h2.6M460.6 277h2.6M460.6 254.3h2.6" fill="none" stroke="#8a8a8a" stroke-width="0.5"/>
<text x="456" y="303.3" text-anchor="end" font-size="11.5">0.05</text>
<text x="456" y="280.6" text-anchor="end" font-size="11.5">0.10</text>
<text x="456" y="257.9" text-anchor="end" font-size="11.5">0.15</text>
<path d="M506.4 322.64C507.61 322.63 511.22 322.6 513.63 322.58C516.04 322.56 518.46 322.54 520.87 322.51C523.28 322.48 525.69 322.45 528.1 322.4C530.51 322.34 532.92 322.29 535.33 322.21C537.74 322.13 540.16 322.03 542.57 321.91C544.98 321.79 547.39 321.65 549.8 321.48C552.21 321.31 554.62 321.11 557.03 320.88C559.44 320.64 561.86 320.38 564.27 320.08C566.68 319.77 569.09 319.43 571.5 319.04C573.91 318.65 576.32 318.23 578.73 317.75C581.14 317.26 583.56 316.74 585.97 316.15C588.38 315.57 591.99 314.56 593.2 314.24" fill="none" stroke="#0000ff" stroke-width="1.9" stroke-linecap="butt"/>
<path d="M506.4 321.09C507.6 320.68 511.2 319.49 513.6 318.62C516 317.76 518.4 316.86 520.8 315.9C523.2 314.93 525.6 313.93 528 312.83C530.4 311.73 532.8 310.58 535.2 309.31C537.6 308.03 540 306.69 542.4 305.19C544.8 303.69 547.2 302.1 549.6 300.32C552 298.53 554.4 296.63 556.8 294.49C559.2 292.35 561.6 290.06 564 287.49C566.4 284.92 568.8 282.15 571.2 279.06C573.6 275.97 576 272.65 578.4 268.95C580.8 265.24 583.2 261.25 585.6 256.83C588 252.4 591.6 244.79 592.8 242.38" fill="none" stroke="#ff0000" stroke-width="1.55" stroke-linecap="butt"/>
<text x="606" y="327.9" font-style="italic" textLength="8.6" lengthAdjust="spacingAndGlyphs" font-size="14.6">&#961;</text>
<text x="614.7" y="331.1" font-style="italic" font-size="10.6">b</text>
<text x="438.2" y="386.2" textLength="18.2" lengthAdjust="spacingAndGlyphs" font-size="12" fill="#0000ff">100</text>
<line x1="459" y1="382.6" x2="491.8" y2="382.6" stroke="#0000ff" stroke-width="0.9"/>
<text x="458.8" y="376.1" font-style="italic" textLength="12" lengthAdjust="spacingAndGlyphs" font-size="10.8" fill="#0000ff">ev</text>
<text x="470.4" y="380.2" textLength="18" lengthAdjust="spacingAndGlyphs" font-size="12" fill="#0000ff">min</text>
<text x="461.9" y="398.9" font-style="italic" textLength="12" lengthAdjust="spacingAndGlyphs" font-size="10.8" fill="#0000ff">ev</text>
<text x="473.4" y="402.8" textLength="12.3" lengthAdjust="spacingAndGlyphs" font-size="12" fill="#0000ff">int</text>
<text x="492.3" y="385.8" font-size="11.5">,</text>
<line x1="496.8" y1="382.6" x2="532.1" y2="382.6" stroke="#ff0000" stroke-width="0.9"/>
<text x="501.3" y="376.1" font-style="italic" textLength="12" lengthAdjust="spacingAndGlyphs" font-size="10.8" fill="#ff0000">ev</text>
<text x="512.8" y="380.2" textLength="12.3" lengthAdjust="spacingAndGlyphs" font-size="12" fill="#ff0000">int</text>
<text x="496.7" y="398.9" font-style="italic" textLength="12" lengthAdjust="spacingAndGlyphs" font-size="10.8" fill="#ff0000">ev</text>
<text x="508.3" y="402.8" textLength="22" lengthAdjust="spacingAndGlyphs" font-size="12" fill="#ff0000">max</text>
<line x1="457.8" y1="495.6" x2="595.8" y2="495.6" stroke="#8a8a8a" stroke-width="0.6"/>
<path d="M461 495.6v-1.5M467.6 495.6v-1.5M474.2 495.6v-1.5M480.8 495.6v-1.5M487.4 495.6v-1.5M494 495.6v-1.5M500.6 495.6v-1.5M507.2 495.6v-1.5M513.8 495.6v-1.5M520.4 495.6v-1.5M527 495.6v-1.5M533.6 495.6v-1.5M540.2 495.6v-1.5M546.8 495.6v-1.5M553.4 495.6v-1.5M560 495.6v-1.5M566.6 495.6v-1.5M573.2 495.6v-1.5M579.8 495.6v-1.5M586.4 495.6v-1.5M593 495.6v-1.5M461 495.6v-2.6M487.4 495.6v-2.6M513.8 495.6v-2.6M540.2 495.6v-2.6M566.6 495.6v-2.6M593 495.6v-2.6" fill="none" stroke="#8a8a8a" stroke-width="0.5"/>
<text x="461" y="510" text-anchor="middle" font-size="11.5">0.0</text>
<text x="487.4" y="510" text-anchor="middle" font-size="11.5">0.2</text>
<text x="513.8" y="510" text-anchor="middle" font-size="11.5">0.4</text>
<text x="540.2" y="510" text-anchor="middle" font-size="11.5">0.6</text>
<text x="566.6" y="510" text-anchor="middle" font-size="11.5">0.8</text>
<text x="593" y="510" text-anchor="middle" font-size="11.5">1.0</text>
<line x1="461" y1="497.2" x2="461" y2="412.4" stroke="#8a8a8a" stroke-width="0.6"/>
<path d="M461 495.6h1.5M461 490.86h1.5M461 486.12h1.5M461 481.38h1.5M461 476.64h1.5M461 471.9h1.5M461 467.16h1.5M461 462.42h1.5M461 457.68h1.5M461 452.94h1.5M461 448.2h1.5M461 443.46h1.5M461 438.72h1.5M461 433.98h1.5M461 429.24h1.5M461 424.5h1.5M461 419.76h1.5M461 415.02h1.5M461 410.28h1.5M461 495.6h2.6M461 471.9h2.6M461 448.2h2.6M461 424.5h2.6" fill="none" stroke="#8a8a8a" stroke-width="0.5"/>
<text x="456.4" y="476" text-anchor="end" font-size="11.5">0.05</text>
<text x="456.4" y="452.3" text-anchor="end" font-size="11.5">0.10</text>
<text x="456.4" y="428.6" text-anchor="end" font-size="11.5">0.15</text>
<path d="M507.2 495.43C508.4 495.42 512.01 495.4 514.42 495.39C516.82 495.37 519.23 495.35 521.63 495.33C524.04 495.31 526.44 495.28 528.85 495.25C531.26 495.22 533.66 495.19 536.07 495.15C538.47 495.12 540.88 495.07 543.28 495.03C545.69 494.98 548.09 494.93 550.5 494.87C552.91 494.81 555.31 494.74 557.72 494.67C560.12 494.6 562.53 494.52 564.93 494.44C567.34 494.35 569.74 494.26 572.15 494.16C574.56 494.06 576.96 493.95 579.37 493.83C581.77 493.72 584.18 493.59 586.58 493.46C588.99 493.32 592.6 493.1 593.8 493.03" fill="none" stroke="#0000ff" stroke-width="1.9" stroke-linecap="butt"/>
<path d="M507.2 494C508.4 493.45 512.01 491.86 514.42 490.7C516.82 489.54 519.23 488.33 521.63 487.04C524.04 485.74 526.44 484.38 528.85 482.93C531.26 481.47 533.66 479.93 536.07 478.28C538.47 476.63 540.88 474.9 543.28 473.03C545.69 471.17 548.09 469.2 550.5 467.1C552.91 465 555.31 462.79 557.72 460.43C560.12 458.06 562.53 455.58 564.93 452.94C567.34 450.29 569.74 447.52 572.15 444.57C574.56 441.63 576.96 438.54 579.37 435.28C581.77 432.02 584.18 428.6 586.58 425.01C588.99 421.41 592.6 415.59 593.8 413.7" fill="none" stroke="#ff0000" stroke-width="1.55" stroke-linecap="butt"/>
<text x="606" y="501.1" font-style="italic" textLength="8.6" lengthAdjust="spacingAndGlyphs" font-size="14.6">&#961;</text>
<text x="614.7" y="504.3" font-style="italic" font-size="10.6">b</text>
<text x="616" y="43.4" font-style="italic" font-family='&quot;Liberation Serif&quot;, serif' font-size="16">B</text>
<text x="626.1" y="45.8" textLength="48.4" lengthAdjust="spacingAndGlyphs" font-family='&quot;Liberation Serif&quot;, serif' font-size="12">z,max,MV</text>
<line x1="680.5" y1="45.8" x2="685.5" y2="31.7" stroke="#111" stroke-width="1"/>
<text x="687" y="43.4" font-style="italic" font-family='&quot;Liberation Serif&quot;, serif' font-size="16">B</text>
<text x="697" y="45.8" textLength="44.8" lengthAdjust="spacingAndGlyphs" font-family='&quot;Liberation Serif&quot;, serif' font-size="12">z,max,FR</text>
<line x1="646.4" y1="150.2" x2="801.4" y2="150.2" stroke="#8a8a8a" stroke-width="0.6"/>
<path d="M649.6 150.2v-1.5M657.03 150.2v-1.5M664.46 150.2v-1.5M671.89 150.2v-1.5M679.32 150.2v-1.5M686.75 150.2v-1.5M694.18 150.2v-1.5M701.61 150.2v-1.5M709.04 150.2v-1.5M716.47 150.2v-1.5M723.9 150.2v-1.5M731.33 150.2v-1.5M738.76 150.2v-1.5M746.19 150.2v-1.5M753.62 150.2v-1.5M761.05 150.2v-1.5M768.48 150.2v-1.5M775.91 150.2v-1.5M783.34 150.2v-1.5M790.77 150.2v-1.5M798.2 150.2v-1.5M649.6 150.2v-2.6M679.32 150.2v-2.6M709.04 150.2v-2.6M738.76 150.2v-2.6M768.48 150.2v-2.6M798.2 150.2v-2.6" fill="none" stroke="#8a8a8a" stroke-width="0.5"/>
<text x="679.32" y="164.6" text-anchor="middle" font-size="11.3">0.2</text>
<text x="709.04" y="164.6" text-anchor="middle" font-size="11.3">0.4</text>
<text x="738.76" y="164.6" text-anchor="middle" font-size="11.3">0.6</text>
<text x="768.48" y="164.6" text-anchor="middle" font-size="11.3">0.8</text>
<text x="798.2" y="164.6" text-anchor="middle" font-size="11.3">1.0</text>
<line x1="649.6" y1="151.8" x2="649.6" y2="57" stroke="#8a8a8a" stroke-width="0.6"/>
<path d="M649.6 150.2h2.6M649.6 145.53h1.5M649.6 140.86h1.5M649.6 136.19h1.5M649.6 131.52h1.5M649.6 126.85h2.6M649.6 122.18h1.5M649.6 117.51h1.5M649.6 112.84h1.5M649.6 108.17h1.5M649.6 103.5h2.6M649.6 98.83h1.5M649.6 94.16h1.5M649.6 89.49h1.5M649.6 84.82h1.5M649.6 80.15h2.6M649.6 75.48h1.5M649.6 70.81h1.5M649.6 66.14h1.5M649.6 61.47h1.5" fill="none" stroke="#8a8a8a" stroke-width="0.5"/>
<text x="645.2" y="129.05" text-anchor="end" font-size="11.3">1.005</text>
<text x="645.2" y="105.7" text-anchor="end" font-size="11.3">1.010</text>
<text x="645.2" y="82.35" text-anchor="end" font-size="11.3">1.015</text>
<path d="M700.7 133.98C701.86 133.54 705.34 132.28 707.66 131.34C709.99 130.4 712.31 129.41 714.63 128.35C716.95 127.29 719.27 126.18 721.59 125C723.91 123.82 726.24 122.58 728.56 121.27C730.88 119.97 733.2 118.6 735.52 117.16C737.84 115.73 740.16 114.22 742.49 112.65C744.81 111.08 747.13 109.45 749.45 107.74C751.77 106.03 754.09 104.25 756.41 102.4C758.74 100.54 761.06 98.62 763.38 96.62C765.7 94.62 768.02 92.55 770.34 90.4C772.66 88.25 774.99 86.03 777.31 83.72C779.63 81.42 781.95 79.04 784.27 76.58C786.59 74.11 788.91 71.57 791.24 68.95C793.56 66.32 797.04 62.18 798.2 60.82" fill="none" stroke="#000000" stroke-width="1.5" stroke-linecap="butt"/>
<rect x="649.6" y="103.6" width="151.7" height="46.8" fill="rgb(205,198,0)" fill-opacity="0.26"/>
<line x1="649.6" y1="103.2" x2="801.6" y2="103.2" stroke="#000000" stroke-width="1.3" stroke-dasharray="10.6 3.6 1.9 3.4 1.8 3.0"/>
<text x="811.8" y="156.5" font-style="italic" textLength="8.6" lengthAdjust="spacingAndGlyphs" font-size="14.6">&#961;</text>
<text x="820.5" y="159.7" font-style="italic" font-size="10.6">b</text>
<text x="616" y="213.4" font-style="italic" font-family='&quot;Liberation Serif&quot;, serif' font-size="16">B</text>
<text x="626.1" y="215.8" textLength="48.4" lengthAdjust="spacingAndGlyphs" font-family='&quot;Liberation Serif&quot;, serif' font-size="12">z,max,MV</text>
<line x1="680.5" y1="215.8" x2="685.5" y2="201.7" stroke="#111" stroke-width="1"/>
<text x="687" y="213.4" font-style="italic" font-family='&quot;Liberation Serif&quot;, serif' font-size="16">B</text>
<text x="697" y="215.8" textLength="44.8" lengthAdjust="spacingAndGlyphs" font-family='&quot;Liberation Serif&quot;, serif' font-size="12">z,max,FR</text>
<line x1="646.4" y1="320.2" x2="801.4" y2="320.2" stroke="#8a8a8a" stroke-width="0.6"/>
<path d="M649.6 320.2v-1.5M657.03 320.2v-1.5M664.46 320.2v-1.5M671.89 320.2v-1.5M679.32 320.2v-1.5M686.75 320.2v-1.5M694.18 320.2v-1.5M701.61 320.2v-1.5M709.04 320.2v-1.5M716.47 320.2v-1.5M723.9 320.2v-1.5M731.33 320.2v-1.5M738.76 320.2v-1.5M746.19 320.2v-1.5M753.62 320.2v-1.5M761.05 320.2v-1.5M768.48 320.2v-1.5M775.91 320.2v-1.5M783.34 320.2v-1.5M790.77 320.2v-1.5M798.2 320.2v-1.5M649.6 320.2v-2.6M679.32 320.2v-2.6M709.04 320.2v-2.6M738.76 320.2v-2.6M768.48 320.2v-2.6M798.2 320.2v-2.6" fill="none" stroke="#8a8a8a" stroke-width="0.5"/>
<text x="679.32" y="334.6" text-anchor="middle" font-size="11.3">0.2</text>
<text x="709.04" y="334.6" text-anchor="middle" font-size="11.3">0.4</text>
<text x="738.76" y="334.6" text-anchor="middle" font-size="11.3">0.6</text>
<text x="768.48" y="334.6" text-anchor="middle" font-size="11.3">0.8</text>
<text x="798.2" y="334.6" text-anchor="middle" font-size="11.3">1.0</text>
<line x1="649.6" y1="321.8" x2="649.6" y2="227" stroke="#8a8a8a" stroke-width="0.6"/>
<path d="M649.6 320.2h2.6M649.6 315.53h1.5M649.6 310.86h1.5M649.6 306.19h1.5M649.6 301.52h1.5M649.6 296.85h2.6M649.6 292.18h1.5M649.6 287.51h1.5M649.6 282.84h1.5M649.6 278.17h1.5M649.6 273.5h2.6M649.6 268.83h1.5M649.6 264.16h1.5M649.6 259.49h1.5M649.6 254.82h1.5M649.6 250.15h2.6M649.6 245.48h1.5M649.6 240.81h1.5M649.6 236.14h1.5M649.6 231.47h1.5" fill="none" stroke="#8a8a8a" stroke-width="0.5"/>
<text x="645.2" y="299.05" text-anchor="end" font-size="11.3">1.005</text>
<text x="645.2" y="275.7" text-anchor="end" font-size="11.3">1.010</text>
<text x="645.2" y="252.35" text-anchor="end" font-size="11.3">1.015</text>
<path d="M700.7 303.98C701.86 303.54 705.34 302.28 707.66 301.34C709.99 300.4 712.31 299.41 714.63 298.35C716.95 297.29 719.27 296.18 721.59 295C723.91 293.82 726.24 292.58 728.56 291.27C730.88 289.97 733.2 288.6 735.52 287.16C737.84 285.73 740.16 284.22 742.49 282.65C744.81 281.08 747.13 279.45 749.45 277.74C751.77 276.03 754.09 274.25 756.41 272.4C758.74 270.54 761.06 268.62 763.38 266.62C765.7 264.62 768.02 262.55 770.34 260.4C772.66 258.25 774.99 256.03 777.31 253.72C779.63 251.42 781.95 249.04 784.27 246.58C786.59 244.11 788.91 241.57 791.24 238.95C793.56 236.32 797.04 232.18 798.2 230.82" fill="none" stroke="#000000" stroke-width="1.5" stroke-linecap="butt"/>
<rect x="649.6" y="273.6" width="151.7" height="46.8" fill="rgb(205,198,0)" fill-opacity="0.26"/>
<line x1="649.6" y1="273.2" x2="801.6" y2="273.2" stroke="#000000" stroke-width="1.3" stroke-dasharray="10.6 3.6 1.9 3.4 1.8 3.0"/>
<text x="811.8" y="326.5" font-style="italic" textLength="8.6" lengthAdjust="spacingAndGlyphs" font-size="14.6">&#961;</text>
<text x="820.5" y="329.7" font-style="italic" font-size="10.6">b</text>
<text x="622" y="387" font-style="italic" font-family='&quot;Liberation Serif&quot;, serif' font-size="16">B</text>
<text x="632.1" y="389.4" textLength="48.4" lengthAdjust="spacingAndGlyphs" font-family='&quot;Liberation Serif&quot;, serif' font-size="12">z,max,MV</text>
<line x1="686.5" y1="389.4" x2="691.5" y2="375.3" stroke="#111" stroke-width="1"/>
<text x="693" y="387" font-style="italic" font-family='&quot;Liberation Serif&quot;, serif' font-size="16">B</text>
<text x="703" y="389.4" textLength="44.8" lengthAdjust="spacingAndGlyphs" font-family='&quot;Liberation Serif&quot;, serif' font-size="12">z,max,FR</text>
<line x1="646.4" y1="494.2" x2="801.4" y2="494.2" stroke="#8a8a8a" stroke-width="0.6"/>
<path d="M649.6 494.2v-1.5M657.03 494.2v-1.5M664.46 494.2v-1.5M671.89 494.2v-1.5M679.32 494.2v-1.5M686.75 494.2v-1.5M694.18 494.2v-1.5M701.61 494.2v-1.5M709.04 494.2v-1.5M716.47 494.2v-1.5M723.9 494.2v-1.5M731.33 494.2v-1.5M738.76 494.2v-1.5M746.19 494.2v-1.5M753.62 494.2v-1.5M761.05 494.2v-1.5M768.48 494.2v-1.5M775.91 494.2v-1.5M783.34 494.2v-1.5M790.77 494.2v-1.5M798.2 494.2v-1.5M649.6 494.2v-2.6M679.32 494.2v-2.6M709.04 494.2v-2.6M738.76 494.2v-2.6M768.48 494.2v-2.6M798.2 494.2v-2.6" fill="none" stroke="#8a8a8a" stroke-width="0.5"/>
<text x="679.32" y="508.6" text-anchor="middle" font-size="11.3">0.2</text>
<text x="709.04" y="508.6" text-anchor="middle" font-size="11.3">0.4</text>
<text x="738.76" y="508.6" text-anchor="middle" font-size="11.3">0.6</text>
<text x="768.48" y="508.6" text-anchor="middle" font-size="11.3">0.8</text>
<text x="798.2" y="508.6" text-anchor="middle" font-size="11.3">1.0</text>
<line x1="649.6" y1="495.8" x2="649.6" y2="400" stroke="#8a8a8a" stroke-width="0.6"/>
<path d="M649.6 494.2h2.6M649.6 489.62h1.5M649.6 485.04h1.5M649.6 480.46h1.5M649.6 475.88h1.5M649.6 471.3h2.6M649.6 466.72h1.5M649.6 462.14h1.5M649.6 457.56h1.5M649.6 452.98h1.5M649.6 448.4h2.6M649.6 443.82h1.5M649.6 439.24h1.5M649.6 434.66h1.5M649.6 430.08h1.5M649.6 425.5h2.6M649.6 420.92h1.5M649.6 416.34h1.5M649.6 411.76h1.5M649.6 407.18h1.5M649.6 402.6h2.6" fill="none" stroke="#8a8a8a" stroke-width="0.5"/>
<text x="645.6" y="474.5" text-anchor="end" font-size="11.3">1.01</text>
<text x="645.6" y="451.6" text-anchor="end" font-size="11.3">1.02</text>
<text x="645.6" y="428.7" text-anchor="end" font-size="11.3">1.03</text>
<text x="645.6" y="405.8" text-anchor="end" font-size="11.3">1.04</text>
<line x1="649.6" y1="472" x2="801.6" y2="472" stroke="#000000" stroke-width="1.6" stroke-dasharray="10.6 3.6 1.9 3.4 1.8 3.0"/>
<path d="M701.3 411.75C702.47 411.6 705.97 411.11 708.31 410.82C710.64 410.54 712.98 410.29 715.31 410.06C717.65 409.83 719.99 409.62 722.32 409.43C724.66 409.24 726.99 409.06 729.33 408.9C731.66 408.73 734 408.58 736.34 408.42C738.67 408.27 741.01 408.12 743.34 407.97C745.68 407.82 748.01 407.67 750.35 407.51C752.69 407.35 755.02 407.19 757.36 407.01C759.69 406.82 762.03 406.63 764.36 406.42C766.7 406.2 769.04 405.97 771.37 405.71C773.71 405.45 776.04 405.17 778.38 404.85C780.71 404.53 783.05 404.19 785.39 403.8C787.72 403.41 790.06 403 792.39 402.53C794.73 402.06 798.23 401.25 799.4 400.99" fill="none" stroke="#000000" stroke-width="1.5" stroke-linecap="butt"/>
<rect x="649.6" y="470.9" width="151.9" height="23.5" fill="rgb(205,198,0)" fill-opacity="0.26"/>
<text x="812.4" y="500" font-style="italic" textLength="8.6" lengthAdjust="spacingAndGlyphs" font-size="14.6">&#961;</text>
<text x="821.1" y="503.2" font-style="italic" font-size="10.6">b</text>
</g></svg>
</body></html>
